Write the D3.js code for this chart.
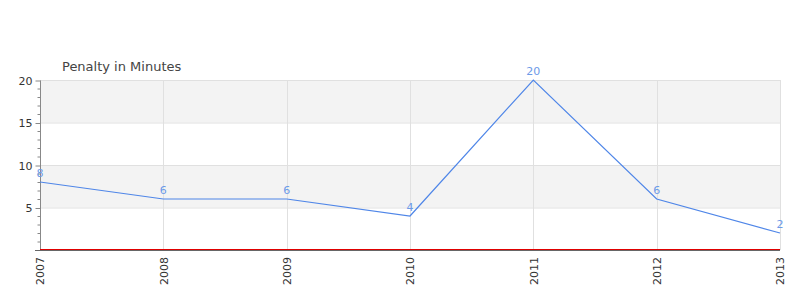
<!DOCTYPE html>
<html><head><meta charset="utf-8">
<script src="https://cdn.jsdelivr.net/npm/d3@7"></script>
<style>body{margin:0;background:#fff;}svg{display:block;font-family:"DejaVu Sans",sans-serif;}</style>
</head><body><svg id="c" width="800" height="300"></svg>
<script>
const years = ["2007","2008","2009","2010","2011","2012","2013"];
const penalty = [8,6,6,4,20,6,2];
const yTicks = [5,10,15,20];
const title = "Penalty in Minutes";

const svg = d3.select("#c");
const L=40,R=780,T=80,B=250;
const x = d3.scalePoint().domain(years).range([L,R]);
const y = d3.scaleLinear().domain([0,20]).range([B,T]);

// bands
const bands=[[15,20],[5,10]];
svg.selectAll("rect.band").data(bands).enter().append("rect")
 .attr("x",L).attr("width",R-L).attr("y",d=>y(d[1])).attr("height",d=>y(d[0])-y(d[1])).attr("fill","#f3f3f3");
// grid
svg.selectAll("line.hg").data(yTicks).enter().append("line")
 .attr("x1",L).attr("x2",R).attr("y1",d=>y(d)+0.5).attr("y2",d=>y(d)+0.5).attr("stroke","#e0e0e0");
svg.selectAll("line.vg").data(years.slice(1)).enter().append("line")
 .attr("x1",d=>Math.round(x(d))+0.5).attr("x2",d=>Math.round(x(d))+0.5).attr("y1",T).attr("y2",B).attr("stroke","#e0e0e0");

// y axis
const yAxis = d3.axisLeft(y).tickValues(yTicks).tickSize(5).tickPadding(3);
const gy = svg.append("g").attr("transform",`translate(${L+0.5},0.5)`).call(yAxis);
gy.select(".domain").attr("stroke","#888").attr("d",`M0,${T}V${B}`);
gy.selectAll(".tick line").attr("stroke","#888");
gy.selectAll(".tick text").attr("fill","#333").style("font-size","11px").style("font-family","DejaVu Sans");
const minor = d3.range(1,20).filter(v=>v%5!==0);
gy.selectAll("line.minor").data(minor).enter().append("line")
 .attr("x1",-3).attr("x2",0).attr("y1",d=>y(d)).attr("y2",d=>y(d)).attr("stroke","#888");

// x axis
const xAxis = d3.axisBottom(x).tickSize(0).tickPadding(0);
const gx = svg.append("g").attr("transform",`translate(0,${B})`).call(xAxis);
gx.select(".domain").remove();
gx.selectAll(".tick text").attr("fill","#333").style("font-size","11px").style("font-family","DejaVu Sans")
 .attr("transform","rotate(-90)").attr("text-anchor","end").attr("x",-7).attr("y",0).attr("dy","0.35em");

// baseline
svg.append("line").attr("x1",L).attr("x2",R).attr("y1",B-0.5).attr("y2",B-0.5).attr("stroke","#e00000");
svg.append("line").attr("x1",L-5).attr("x2",R).attr("y1",B+0.5).attr("y2",B+0.5).attr("stroke","#666");

// line
const line = d3.line().x((d,i)=>x(years[i])).y(d=>y(d));
svg.append("path").datum(penalty).attr("d",line).attr("fill","none").attr("stroke","#4f86e8").attr("stroke-width",1.2);

// labels
svg.selectAll("text.lbl").data(penalty).enter().append("text")
 .attr("x",(d,i)=>x(years[i])).attr("y",d=>y(d)-5).attr("text-anchor","middle")
 .attr("fill","#6c9ae8").style("font-size","11px").text(d=>d);

svg.append("text").attr("x",62).attr("y",71).attr("fill","#444").style("font-size","13px").text(title);
</script></body></html>
